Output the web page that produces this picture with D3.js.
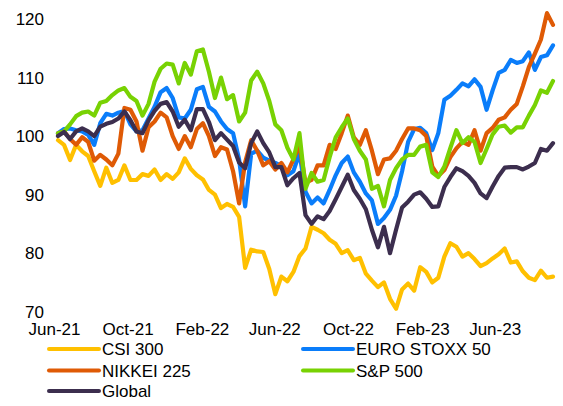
<!DOCTYPE html>
<html>
<head>
<meta charset="utf-8">
<script src="https://cdn.jsdelivr.net/npm/d3@7"></script>
<style>
  html, body { margin: 0; padding: 0; background: #fff; }
  svg { display: block; }
  text { font-family: "Liberation Sans", Arial, sans-serif; fill: #000; }
</style>
</head>
<body>
<svg id="chart" width="563" height="406"></svg>
<script>
// ---- data (index levels, rebased to 100) ----
const seriesNames = ["CSI 300", "EURO STOXX 50", "NIKKEI 225", "S&P 500", "Global"];
const xTickLabels = ["Jun-21", "Oct-21", "Feb-22", "Jun-22", "Oct-22", "Feb-23", "Jun-23"];
const yTickValues = [70, 80, 90, 100, 110, 120];
const startDate = "2021-06-06";
const stepDays = 10;

const csi300 = [99.3,98.5,95.9,98.5,97.4,96.6,94,91.5,94.6,92,92.5,95,92.5,92.5,93.5,93.2,94.3,92.5,93.5,92.7,
  93.8,96.2,94.4,93.3,92.6,90.8,90,87.7,88.4,87.9,86.2,77.5,80.6,80.3,80.2,77.3,73,76,75.2,76.8,
  79.5,80.8,84.5,84,83.4,82.3,81.6,80,80.5,78.8,79.2,76.5,75.3,74.2,75,72.2,70.5,73.8,74.8,73.6,
  77.6,76.8,75,75.8,79.4,81.7,81.1,79.4,80,79,77.8,78.3,79.1,79.8,80.8,78.4,78.6,76.9,75.8,75.4,
  77,75.8,76];
const euroStoxx50 = [100.5,101.2,101.3,101,100.8,100.2,98.5,102.2,103.8,103.5,104,104.3,102,100.8,101,103,105,107.5,108.2,106.5,
  103.2,103,104.5,108,108.4,105,104.2,102.5,101.2,100.5,96,88,97,97.5,96.3,95.8,95.4,94.9,93.3,94,
  97.1,90.5,88.5,89.5,88.5,90.8,93.3,95.4,96.5,93.8,92.2,90.2,89,85,86,87.4,89.8,94,99,101.2,
  101.4,100.5,97.6,100.5,106.2,106.9,107.9,109,108.5,109.7,108.4,104.5,107.8,110.8,111.3,113,112.5,112.8,114.3,111.3,
  113.5,113.8,115.5];
const nikkei225 = [100.5,100.8,99.5,98.5,99.8,99,95.8,96.8,96,95,97,104.8,104.5,102.5,97.5,101.5,102.5,104,103.2,100,
  97.8,100,98.1,101.2,102.2,100,96.6,98.1,97.7,94,88.5,95.5,99.3,97.5,95,95.7,94.3,95.4,93.8,96,
  98.5,92,92.5,95,95,98.5,97.8,100.5,103.5,99.8,98.5,101,97.5,93.5,96,96.2,97.5,99.5,101.3,101.3,
  101,100,94.8,93.2,94.2,96.4,97.9,99,98.5,101,97.5,100.5,101.4,102.8,103.2,104.5,105.5,108.5,111.8,114.1,
  116.5,121,119];
const sp500 = [100.5,100.8,102,103.4,104,104.2,103.5,105.7,106,107,107.8,108.2,106.7,106,103.5,105.5,109.3,111.5,112.4,112.2,
  109,112.5,110.5,114.5,114.8,111,106.5,110,106.3,107,102.5,104,109.5,111,109,106,102,101,98,96,
  100.5,91,93.7,92.2,92.5,96.4,99.8,101.5,103,99.5,97.5,96,91,91.5,88,92.5,94.5,96,96.8,96.8,
  98.2,98.5,93.8,93,94.8,98,101,98.8,99.8,99,95.4,97.8,100.3,101.6,101.8,100.6,101.5,101.5,103.5,105.3,
  107.8,107.4,109.4];
const globalIdx = [100,100.7,99.5,100.8,101.3,100.8,100,101.6,102.1,102.4,103,104.2,102.7,100.8,100.5,102.7,104.3,105.5,105.8,104.2,
  101.6,102.8,101,104.6,104.6,102.4,99.3,100.5,99.4,98.3,95.5,94.5,98.8,100.8,98.8,97.2,94.7,94.7,91.6,92.8,
  93.7,86.5,85,86.3,85.8,87.2,89.2,91.3,93.4,90.8,89.3,87.5,84,81,84.5,80,84,87.8,88.8,90,
  90.4,89.3,87.9,88,91.3,93,94.5,94,93.2,92,90.2,89.4,91.4,93.2,94.6,94.7,94.7,94.3,94.8,95.4,
  97.8,97.5,98.8];

const seriesValues = [csi300, euroStoxx50, nikkei225, sp500, globalIdx];
const seriesColors = ["#FFC000", "#0A7DFA", "#DF5A05", "#78D203", "#3C2E4E"];

// ---- build ----
const parseDay = d3.timeParse("%Y-%m-%d");
const parseTick = d3.timeParse("%b-%y");
const n = d3.max(seriesValues, s => s.length);
const dates = d3.range(n).map(i => d3.timeDay.offset(parseDay(startDate), i * stepDays));

const svg = d3.select("#chart");

const x = d3.scaleTime()
  .domain([dates[0], dates[n - 1]])
  .range([58, 553]);
const y = d3.scaleLinear()
  .domain([70, 120])
  .range([311.7, 19]);

// y axis
const yAxis = svg.append("g")
  .attr("transform", "translate(44,0.3)")
  .call(d3.axisLeft(y).tickValues(yTickValues).tickSize(0).tickPadding(0).tickFormat(d3.format("d")));
yAxis.select(".domain").remove();
yAxis.selectAll("text").attr("font-size", 17).attr("fill", "#000")
  .style("font-family", '"Liberation Sans", Arial, sans-serif');

// x axis
const xAxis = svg.append("g")
  .attr("transform", "translate(-1,323)")
  .call(d3.axisBottom(x)
    .tickValues(xTickLabels.map(parseTick))
    .tickFormat(d3.timeFormat("%b-%y"))
    .tickSize(0).tickPadding(0));
xAxis.select(".domain").remove();
xAxis.selectAll("text").attr("font-size", 17).attr("fill", "#000")
  .style("font-family", '"Liberation Sans", Arial, sans-serif');

// lines
const line = d3.line()
  .x((d, i) => x(dates[i]))
  .y(d => y(d));

svg.append("g").selectAll("path")
  .data(seriesValues)
  .join("path")
  .attr("d", d => line(d))
  .attr("fill", "none")
  .attr("stroke", (d, i) => seriesColors[i])
  .attr("stroke-width", 4.2)
  .attr("stroke-linejoin", "round")
  .attr("stroke-linecap", "round");

// legend
const legendPos = [
  {col: 0, row: 0}, {col: 1, row: 0},
  {col: 0, row: 1}, {col: 1, row: 1},
  {col: 0, row: 2}
];
const colX = [49, 303];
const rowY = [349, 370.5, 391];
const legend = svg.append("g");
seriesNames.forEach((name, i) => {
  const p = legendPos[i];
  const g = legend.append("g").attr("transform", `translate(${colX[p.col]},${rowY[p.row]})`);
  g.append("line").attr("x1", 0).attr("x2", 50).attr("y1", 0).attr("y2", 0)
    .attr("stroke", seriesColors[i]).attr("stroke-width", 4).attr("stroke-linecap", "round");
  g.append("text").attr("x", 53).attr("y", 6).attr("font-size", 17).text(name);
});
</script>
</body>
</html>
